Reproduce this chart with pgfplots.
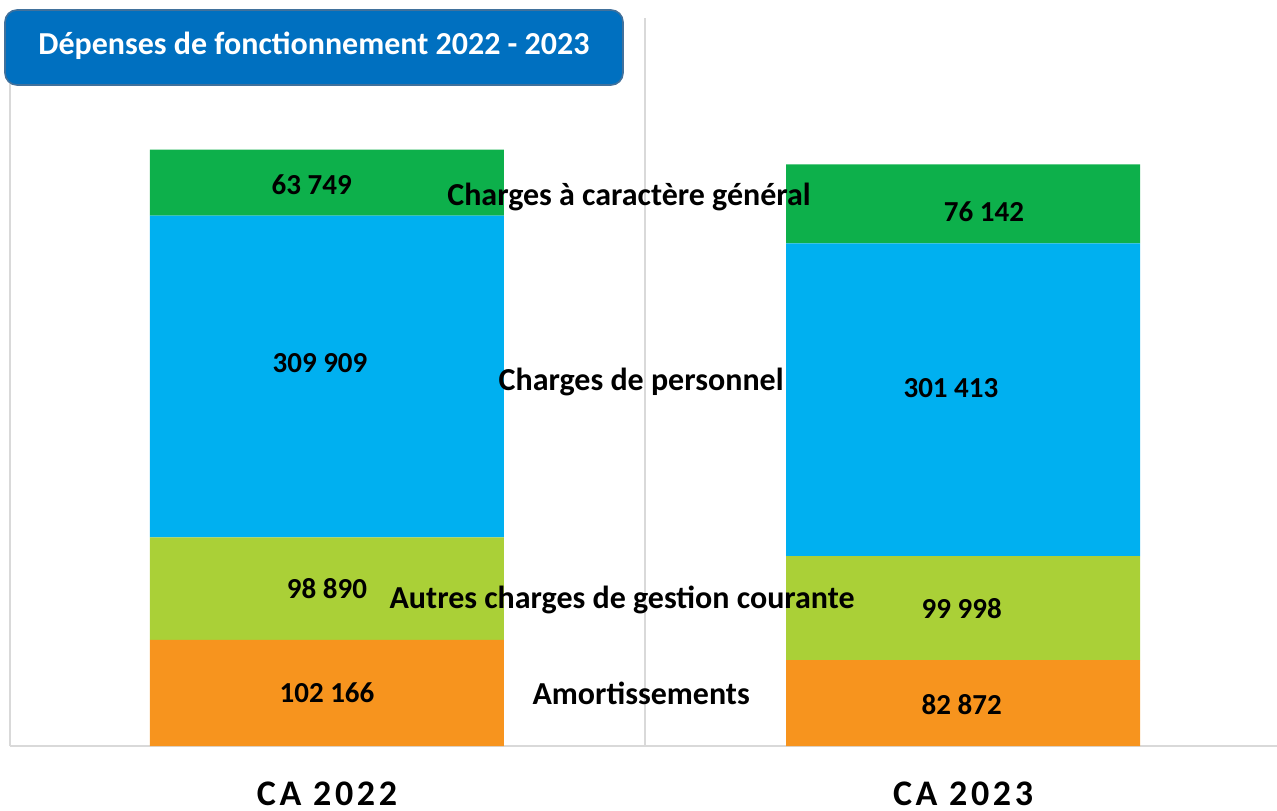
\documentclass[border=0pt]{standalone}
\usepackage{pgfplots}
\pgfplotsset{compat=1.18}
\usepackage{fontspec}
\setmainfont{Carlito}
\newfontfamily\catfont[LetterSpace=10]{Carlito}
\definecolor{cgreen}{RGB}{13,176,75}
\definecolor{cblue}{RGB}{0,176,240}
\definecolor{cyg}{RGB}{170,208,55}
\definecolor{corange}{RGB}{247,148,30}
\definecolor{tbox}{RGB}{0,112,192}
\definecolor{tborder}{RGB}{65,113,156}
\definecolor{lgray}{RGB}{217,217,217}
\tikzset{lab/.style={font=\bfseries\fontsize{16}{18}\selectfont, inner sep=0pt},
  num/.style={font=\bfseries\fontsize{14.5}{17}\selectfont, inner sep=0pt}}
\begin{document}
\begin{tikzpicture}
\path[use as bounding box] (0,0) rectangle (638.5pt,405pt);
\begin{axis}[
  at={(5pt,32pt)}, anchor=south west,
  width=633.5pt, height=364pt, scale only axis,
  xmin=-0.4984, xmax=1.4937, ymin=0, ymax=701500,
  ybar stacked, bar width=177pt,
  axis y line=none,
  axis x line*=bottom,
  x axis line style={draw=lgray, line width=1.2pt, -},
  xtick={0,1}, xticklabels={CA 2022, CA 2023},
  major tick length=0pt,
  xticklabel style={font=\catfont\bfseries\fontsize{18}{20}\selectfont, anchor=base, inner sep=0pt, yshift=-29.5pt},
  extra x ticks={-0.4984,0.5}, extra x tick labels={},
  extra x tick style={grid=major, major grid style={draw=lgray, line width=0.8pt}},
  clip=false,
]
\addplot[fill=corange, draw=none] coordinates {(0,102166) (1,82872)};
\addplot[fill=cyg, draw=none] coordinates {(0,98890) (1,99998)};
\addplot[fill=cblue, draw=none] coordinates {(0,309909) (1,301413)};
\addplot[fill=cgreen, draw=none] coordinates {(0,63749) (1,76142)};
\coordinate (l1) at (axis cs:-0.024,540566);
\coordinate (l2) at (axis cs:-0.011,369050);
\coordinate (l3) at (axis cs:0,151282);
\coordinate (l4) at (axis cs:0,51070);
\coordinate (l5) at (axis cs:1.033,514550);
\coordinate (l6) at (axis cs:0.981,344960);
\coordinate (l7) at (axis cs:0.998,132010);
\coordinate (l8) at (axis cs:0.998,39507);
\coordinate (s1) at (axis cs:0.475,529004);
\coordinate (s2) at (axis cs:0.494,350742);
\coordinate (s3) at (axis cs:0.464,140682);
\coordinate (s4) at (axis cs:0.494,51070);
\end{axis}
\node[num] at (l1) {63 749};
\node[num] at (l2) {309 909};
\node[num] at (l3) {98 890};
\node[num] at (l4) {102 166};
\node[num] at (l5) {76 142};
\node[num] at (l6) {301 413};
\node[num] at (l7) {99 998};
\node[num] at (l8) {82 872};
\node[lab] at (s1) {Charges à caractère général};
\node[lab] at (s2) {Charges de personnel};
\node[lab] at (s3) {Autres charges de gestion courante};
\node[lab] at (s4) {Amortissements};
\draw[fill=tbox, draw=tborder, line width=0.8pt, rounded corners=6pt] (2.5pt,400pt) rectangle (311.5pt,362.5pt);
\node[text=white, font=\bfseries\fontsize{16}{18}\selectfont] at (157pt,382pt) {Dépenses de fonctionnement 2022 - 2023};
\end{tikzpicture}
\end{document}
